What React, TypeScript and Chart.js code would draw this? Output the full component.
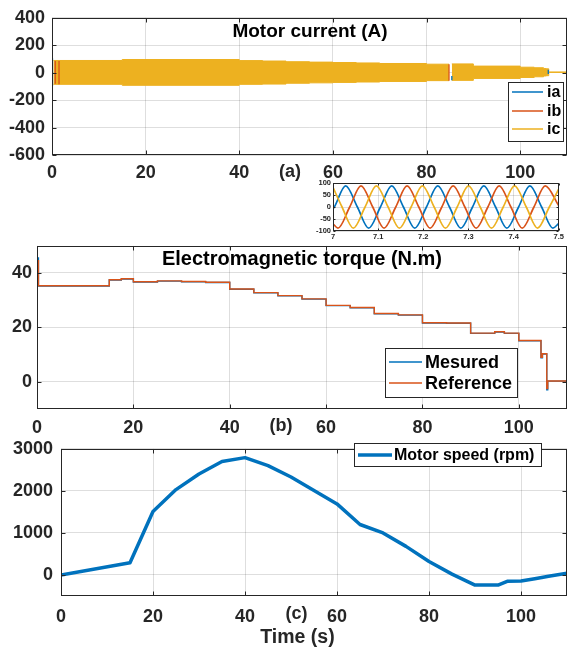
import React, { useEffect, useRef } from 'react';
import { Chart, registerables } from 'chart.js';

Chart.register(...registerables);

const FONT = '"Liberation Sans", Arial, Helvetica, sans-serif';
const BLUE = '#0072BD';
const ORANGE = '#D95319';
const YELLOW = '#EDB120';
const AXIS = '#262626';
const GRID = 'rgba(0,0,0,0.13)';

// ---------- shared ----------
const timeTicks = [0, 20, 40, 60, 80, 100];

// ---------- (a) motor current ----------
const currentTitle = 'Motor current (A)';
const currentNames = ['ia', 'ib', 'ic'];
const currentYTicks = [-600, -400, -200, 0, 200, 400];
// envelope of the dense ic oscillation (A), step-held from each time
const envT = [0.3, 15, 40, 45, 50, 55, 60, 65, 70, 80, 84.8, 85.0, 85.4, 90, 100, 103, 105, 105.6, 106.1, 110];
const envUpper = [89, 96, 88, 85, 80, 77, 74, 71, 67, 62, 62, null, 64, 48, 40, 36, 30, 28, 5, 5];
const envLower = [-85, -92, -85, -83, -77, -74, -71, -68, -64, -58, -58, null, -56, -42, -35, -30, -24, -22, 2, 2];
// visible ia / ib traces
const iaT = [0.1, 0.1, 0.2, 85.4, 85.4, 85.5, 106.0, 106.0];
const iaV = [-95, 105, null, -56, -25, null, -10, 22];
const ibT = [0.7, 0.7, 0.8, 1.5, 1.5, 1.6, 84.8, 84.8];
const ibV = [-80, 85, null, -84, 86, null, -58, 62];

// ---------- inset (zoom 7 s – 7.5 s) ----------
const insetXTicks = [7, 7.1, 7.2, 7.3, 7.4, 7.5];
const insetXLabels = ['7', '7.1', '7.2', '7.3', '7.4', '7.5'];
const insetYTicks = [-100, -50, 0, 50, 100];
const zIaT = [7.0, 7.003, 7.028, 7.054, 7.079, 7.105, 7.13, 7.156, 7.181, 7.207, 7.232, 7.258, 7.283, 7.309, 7.334, 7.36, 7.385, 7.411, 7.436, 7.462, 7.487, 7.5];
const zIaV = [-8, 0, 88, 0, -88, 0, 88, 0, -88, 0, 88, 0, -88, 0, 88, 0, -88, 0, 88, 0, -88, -68];
const zIbT = [7.0, 7.011, 7.037, 7.062, 7.088, 7.113, 7.139, 7.164, 7.19, 7.215, 7.241, 7.266, 7.292, 7.317, 7.343, 7.368, 7.394, 7.419, 7.445, 7.47, 7.5];
const zIbV = [-70, -88, 0, 88, 0, -88, 0, 88, 0, -88, 0, 88, 0, -88, 0, 88, 0, -88, 0, 88, 5];
const zIcT = [7.0, 7.02, 7.045, 7.071, 7.096, 7.122, 7.147, 7.173, 7.198, 7.224, 7.249, 7.275, 7.3, 7.326, 7.351, 7.377, 7.402, 7.428, 7.453, 7.479, 7.5];
const zIcV = [82, 0, -88, 0, 88, 0, -88, 0, 88, 0, -88, 0, 88, 0, -88, 0, 88, 0, -88, 0, 75];

// ---------- (b) electromagnetic torque ----------
const torqueTitle = 'Electromagnetic torque (N.m)';
const torqueNames = ['Mesured', 'Reference'];
const torqueYTicks = [0, 20, 40];
const torqueT = [0, 0.02, 0.3, 15, 17.5, 20, 25, 30, 35, 40, 45, 50, 55, 60, 65, 70, 75, 80, 85, 90, 95, 97, 100, 104.6, 104.9, 105.8, 106.0, 110];
const torqueRef = [0, 44.5, 35.3, 37.5, 37.9, 36.8, 37.1, 36.9, 36.6, 34.1, 32.8, 31.7, 30.5, 28.1, 27.3, 25.1, 24.6, 21.7, 21.6, 17.9, 18.4, 17.9, 15.2, 9.0, 10.3, -2.5, 0.3, 0.3];
const torqueMeas = [0, 45.5, 35.2, 37.4, 37.8, 36.7, 37.0, 36.8, 36.5, 34.0, 32.7, 31.6, 30.4, 28.0, 27.2, 25.0, 24.5, 21.6, 21.5, 17.8, 18.3, 17.8, 15.1, 8.8, 10.2, -2.9, 0.25, 0.25];

// ---------- (c) motor speed ----------
const speedName = 'Motor speed (rpm)';
const speedYTicks = [0, 1000, 2000, 3000];
const speedT = [0, 15, 20, 25, 30, 35, 40, 45, 50, 55, 60, 65, 70, 75, 80, 85, 90, 95, 97, 100, 103, 106, 110];
const speedV = [0, 290, 1510, 2030, 2400, 2700, 2790, 2600, 2330, 2010, 1690, 1200, 1000, 680, 320, 20, -240, -240, -150, -145, -90, -30, 40];

const xAxisTitle = 'Time (s)';
const panelTags = ['(a)', '(b)', '(c)'];

const pts = (xs: number[], ys: (number | null)[]) => xs.map((x, i) => ({ x, y: ys[i] }));

// ---------- plugins ----------
function framePlugin(tickLen: number) {
  return {
    id: 'frame',
    afterDatasetsDraw(chart: any) {
      const { ctx, chartArea: a, scales } = chart;
      const L = Math.round(a.left) + 0.5;
      const R = Math.round(a.right) - 0.5;
      const T = Math.round(a.top) + 0.5;
      const B = Math.round(a.bottom) - 0.5;
      ctx.save();
      ctx.strokeStyle = AXIS;
      ctx.lineWidth = 1;
      ctx.strokeRect(L, T, R - L, B - T);
      ctx.beginPath();
      scales.x.ticks.forEach((t: any) => {
        const px = Math.round(scales.x.getPixelForValue(t.value)) + 0.5;
        ctx.moveTo(px, B); ctx.lineTo(px, B - tickLen);
        ctx.moveTo(px, T); ctx.lineTo(px, T + tickLen);
      });
      scales.y.ticks.forEach((t: any) => {
        const py = Math.round(scales.y.getPixelForValue(t.value)) + 0.5;
        ctx.moveTo(L, py); ctx.lineTo(L + tickLen, py);
        ctx.moveTo(R, py); ctx.lineTo(R - tickLen, py);
      });
      ctx.stroke();
      ctx.restore();
    },
  };
}

type LegendItem = { label: string; color: string; width: number };
function legendPlugin(cfg: { box: number[]; lineX: number[]; textX: number; rowsY: number[]; size: number; items: LegendItem[] }) {
  return {
    id: 'boxLegend',
    afterDraw(chart: any) {
      const { ctx } = chart;
      const [x1, y1, x2, y2] = cfg.box;
      ctx.save();
      ctx.fillStyle = '#ffffff';
      ctx.fillRect(x1, y1, x2 - x1, y2 - y1);
      ctx.strokeStyle = AXIS;
      ctx.lineWidth = 1;
      ctx.strokeRect(x1 + 0.5, y1 + 0.5, x2 - x1 - 1, y2 - y1 - 1);
      cfg.items.forEach((it, i) => {
        const y = cfg.rowsY[i];
        ctx.beginPath();
        ctx.strokeStyle = it.color;
        ctx.lineWidth = it.width;
        ctx.moveTo(cfg.lineX[0], y);
        ctx.lineTo(cfg.lineX[1], y);
        ctx.stroke();
        ctx.fillStyle = '#000000';
        ctx.font = `bold ${cfg.size}px ${FONT}`;
        ctx.textBaseline = 'middle';
        ctx.textAlign = 'left';
        ctx.fillText(it.label, cfg.textX, y + 1);
      });
      ctx.restore();
    },
  };
}

function panelOptions(p: {
  xMin: number; xMax: number; xTicks: number[]; xFmt: (v: number, i: number) => string;
  yMin: number; yMax: number; yTicks: number[];
  yWidth: number; xHeight: number; padTop: number; padRight: number;
  font: number; xPad: number; yPad: number;
}): any {
  const tickFont = { family: FONT, size: p.font, weight: 'bold' };
  return {
    responsive: false,
    maintainAspectRatio: false,
    animation: false,
    events: [],
    layout: { padding: { top: p.padTop, right: p.padRight, left: 0, bottom: 0 } },
    elements: { point: { radius: 0, hoverRadius: 0 }, line: { tension: 0 } },
    plugins: { legend: { display: false }, tooltip: { enabled: false }, title: { display: false } },
    scales: {
      x: {
        type: 'linear', min: p.xMin, max: p.xMax,
        afterBuildTicks: (s: any) => { s.ticks = p.xTicks.map((v) => ({ value: v })); },
        afterFit: (s: any) => { s.height = p.xHeight; },
        grid: { color: GRID, lineWidth: 1, drawTicks: false },
        border: { display: false },
        ticks: {
          font: tickFont, color: AXIS, padding: p.xPad, maxRotation: 0, minRotation: 0, autoSkip: false,
          callback: (v: any, i: number) => p.xFmt(Number(v), i),
        },
      },
      y: {
        type: 'linear', min: p.yMin, max: p.yMax,
        afterBuildTicks: (s: any) => { s.ticks = p.yTicks.map((v) => ({ value: v })); },
        afterFit: (s: any) => { s.width = p.yWidth; },
        grid: { color: GRID, lineWidth: 1, drawTicks: false },
        border: { display: false },
        ticks: { font: tickFont, color: AXIS, padding: p.yPad, autoSkip: false, callback: (v: any) => String(v) },
      },
    },
  };
}

// ---------- chart configs ----------
function currentConfig(): any {
  return {
    type: 'line',
    data: {
      datasets: [
        { label: currentNames[0], data: pts(iaT, iaV), borderColor: BLUE, borderWidth: 1.3, spanGaps: false, fill: false, order: 0 },
        { label: currentNames[1], data: pts(ibT, ibV), borderColor: ORANGE, borderWidth: 1.3, spanGaps: false, fill: false, order: 1 },
        { label: currentNames[2], data: pts(envT, envUpper), stepped: true, borderColor: YELLOW, backgroundColor: YELLOW, borderWidth: 1, spanGaps: false, fill: '+1', order: 2 },
        { label: currentNames[2], data: pts(envT, envLower), stepped: true, borderColor: YELLOW, backgroundColor: YELLOW, borderWidth: 1, spanGaps: false, fill: false, order: 3 },
      ],
    },
    options: panelOptions({
      xMin: 0, xMax: 110, xTicks: timeTicks, xFmt: (v) => String(v),
      yMin: -600, yMax: 400, yTicks: currentYTicks,
      yWidth: 52, xHeight: 35, padTop: 13, padRight: 1, font: 18, xPad: 7, yPad: 7,
    }),
    plugins: [
      framePlugin(4),
      legendPlugin({
        box: [508, 82, 564, 142], lineX: [512, 543], textX: 547, rowsY: [92, 111, 129], size: 16,
        items: [
          { label: currentNames[0], color: BLUE, width: 1.5 },
          { label: currentNames[1], color: ORANGE, width: 1.5 },
          { label: currentNames[2], color: YELLOW, width: 1.5 },
        ],
      }),
    ],
  };
}

function insetConfig(): any {
  return {
    type: 'line',
    data: {
      datasets: [
        { label: currentNames[0], data: pts(zIaT, zIaV), borderColor: BLUE, borderWidth: 1.7, cubicInterpolationMode: 'monotone', order: 2 },
        { label: currentNames[1], data: pts(zIbT, zIbV), borderColor: ORANGE, borderWidth: 1.7, cubicInterpolationMode: 'monotone', order: 1 },
        { label: currentNames[2], data: pts(zIcT, zIcV), borderColor: YELLOW, borderWidth: 1.7, cubicInterpolationMode: 'monotone', order: 0 },
      ],
    },
    options: panelOptions({
      xMin: 7, xMax: 7.5, xTicks: insetXTicks, xFmt: (_v, i) => insetXLabels[i] ?? '',
      yMin: -100, yMax: 100, yTicks: insetYTicks,
      yWidth: 33, xHeight: 11, padTop: 7, padRight: 6, font: 7.5, xPad: 1, yPad: 2,
    }),
    plugins: [framePlugin(2)],
  };
}

function torqueConfig(): any {
  return {
    type: 'line',
    data: {
      datasets: [
        { label: torqueNames[0], data: pts(torqueT, torqueMeas), stepped: true, borderColor: BLUE, borderWidth: 1.4, fill: false, order: 1 },
        { label: torqueNames[1], data: pts(torqueT, torqueRef), stepped: true, borderColor: ORANGE, borderWidth: 1.4, fill: false, order: 0 },
      ],
    },
    options: panelOptions({
      xMin: 0, xMax: 110, xTicks: timeTicks, xFmt: (v) => String(v),
      yMin: -10, yMax: 50, yTicks: torqueYTicks,
      yWidth: 37, xHeight: 33, padTop: 13, padRight: 1, font: 18, xPad: 8, yPad: 5,
    }),
    plugins: [
      framePlugin(4),
      legendPlugin({
        box: [385, 118, 518, 168], lineX: [389, 422], textX: 425, rowsY: [132, 153], size: 18,
        items: [
          { label: torqueNames[0], color: BLUE, width: 1.3 },
          { label: torqueNames[1], color: ORANGE, width: 1.3 },
        ],
      }),
    ],
  };
}

function speedConfig(): any {
  return {
    type: 'line',
    data: {
      datasets: [
        { label: speedName, data: pts(speedT, speedV), borderColor: BLUE, borderWidth: 3.5, borderJoinStyle: 'round', fill: false },
      ],
    },
    options: panelOptions({
      xMin: 0, xMax: 110, xTicks: timeTicks, xFmt: (v) => String(v),
      yMin: -500, yMax: 3000, yTicks: speedYTicks,
      yWidth: 61, xHeight: 52, padTop: 12, padRight: 1, font: 18, xPad: 10, yPad: 8,
    }),
    plugins: [
      framePlugin(4),
      legendPlugin({
        box: [354, 13, 542, 37], lineX: [358, 392], textX: 394, rowsY: [25], size: 16,
        items: [{ label: speedName, color: BLUE, width: 3.5 }],
      }),
    ],
  };
}

function ChartBox(props: { left: number; top: number; width: number; height: number; make: () => any }) {
  const ref = useRef<HTMLCanvasElement | null>(null);
  useEffect(() => {
    if (!ref.current) return;
    const chart = new Chart(ref.current, props.make());
    return () => chart.destroy();
  }, []);
  return (
    <canvas
      ref={ref}
      width={props.width}
      height={props.height}
      style={{ position: 'absolute', left: props.left, top: props.top, width: props.width, height: props.height }}
    />
  );
}

function Txt(props: { cx: number; top: number; size: number; color: string; children: React.ReactNode }) {
  return (
    <div
      style={{
        position: 'absolute', left: props.cx - 200, width: 400, top: props.top, textAlign: 'center',
        fontFamily: FONT, fontWeight: 'bold', fontSize: props.size, lineHeight: `${props.size}px`,
        color: props.color, whiteSpace: 'nowrap', pointerEvents: 'none',
      }}
    >
      {props.children}
    </div>
  );
}

export default function App() {
  return (
    <div style={{ position: 'fixed', left: 0, top: 0, width: 568, height: 648, background: '#ffffff', overflow: 'hidden' }}>
      <ChartBox left={0} top={0} width={568} height={190} make={currentConfig} />
      <ChartBox left={0} top={230} width={568} height={212} make={torqueConfig} />
      <ChartBox left={0} top={430} width={568} height={218} make={speedConfig} />
      <ChartBox left={300} top={176} width={265} height={66} make={insetConfig} />
      <Txt cx={310} top={20.6} size={19} color="#000000">{currentTitle}</Txt>
      <Txt cx={290} top={162} size={18} color={AXIS}>{panelTags[0]}</Txt>
      <Txt cx={302} top={247.8} size={20} color="#000000">{torqueTitle}</Txt>
      <Txt cx={281} top={415.5} size={18} color={AXIS}>{panelTags[1]}</Txt>
      <Txt cx={296.5} top={603.5} size={18} color={AXIS}>{panelTags[2]}</Txt>
      <Txt cx={297.5} top={627} size={19.5} color={AXIS}>{xAxisTitle}</Txt>
    </div>
  );
}
